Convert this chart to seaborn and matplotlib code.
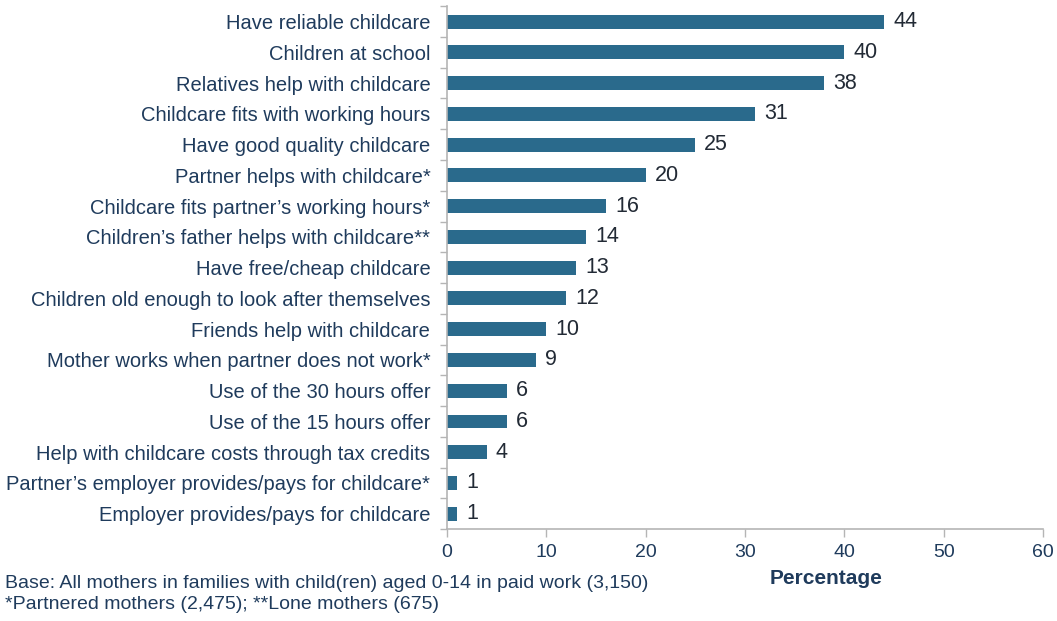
import matplotlib
matplotlib.use("Agg")
import matplotlib.pyplot as plt
import seaborn as sns
import pandas as pd
import numpy as np

categories = [
    "Have reliable childcare",
    "Children at school",
    "Relatives help with childcare",
    "Childcare fits with working hours",
    "Have good quality childcare",
    "Partner helps with childcare*",
    "Childcare fits partner\u2019s working hours*",
    "Children\u2019s father helps with childcare**",
    "Have free/cheap childcare",
    "Children old enough to look after themselves",
    "Friends help with childcare",
    "Mother works when partner does not work*",
    "Use of the 30 hours offer",
    "Use of the 15 hours offer",
    "Help with childcare costs through tax credits",
    "Partner\u2019s employer provides/pays for childcare*",
    "Employer provides/pays for childcare",
]
percentages = [44, 40, 38, 31, 25, 20, 16, 14, 13, 12, 10, 9, 6, 6, 4, 1, 1]
x_ticks = [0, 10, 20, 30, 40, 50, 60]

df = pd.DataFrame({"reason": categories, "pct": percentages})

sns.set_theme(style="white")
plt.rcParams["font.family"] = ["Liberation Sans", "DejaVu Sans"]

BAR = "#2a6a8c"
TEXT = "#1f3b5c"
AXIS = "#b5b5b5"

fig = plt.figure(figsize=(10.57, 6.21), dpi=100)
ax = fig.add_axes([0.4229, 0.148, 0.5639, 0.842])

sns.barplot(data=df, y="reason", x="pct", orient="h", color=BAR,
            saturation=1, width=0.45, linewidth=0, ax=ax)

ax.set_xlim(0, 60)
ax.set_ylim(len(categories) - 0.5, -0.5)
ax.set_xticks(x_ticks)
ax.set_xticklabels([str(t) for t in x_ticks], fontsize=14, color=TEXT)
ax.tick_params(axis="x", bottom=True, length=6, width=1, color=AXIS, pad=5)
ax.tick_params(axis="y", which="major", left=False, length=0, pad=12,
               labelsize=14.5, labelcolor=TEXT)
ax.set_yticks(np.arange(-0.5, len(categories), 1), minor=True)
ax.tick_params(axis="y", which="minor", left=True, length=5, width=1,
               color=AXIS)
ax.set_ylabel("")

for s in ["top", "right"]:
    ax.spines[s].set_visible(False)
for s in ["left", "bottom"]:
    ax.spines[s].set_color(AXIS)
    ax.spines[s].set_linewidth(1.2)

for i, v in enumerate(percentages):
    ax.text(v + 0.9, i, str(v), va="center", ha="left",
            fontsize=15.5, color="#222a35")

ax.set_xlabel("Percentage", fontsize=15, fontweight="bold", color=TEXT)
ax.xaxis.set_label_coords(0.636, -0.077)

fig.text(0.005, 0.061,
         "Base: All mothers in families with child(ren) aged 0-14 in paid work (3,150)",
         fontsize=14, color=TEXT, va="center", ha="left")
fig.text(0.005, 0.026,
         "*Partnered mothers (2,475); **Lone mothers (675)",
         fontsize=14, color=TEXT, va="center", ha="left")

fig.savefig("out.png", dpi=100, facecolor="white")
